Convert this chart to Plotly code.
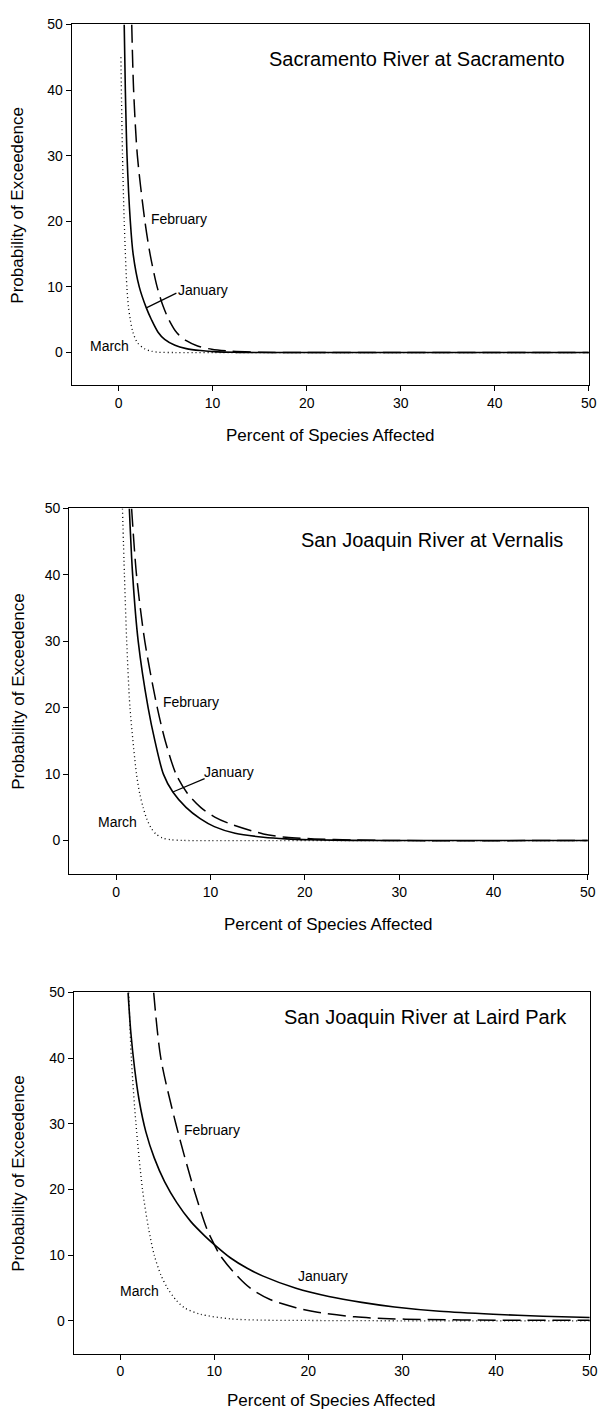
import plotly.graph_objects as go

# ---------------- data ----------------
panel_titles = ["Sacramento River at Sacramento",
                "San Joaquin River at Vernalis",
                "San Joaquin River at Laird Park"]
series_names = ["January", "February", "March"]
x_ticks = [0, 10, 20, 30, 40, 50]
y_ticks = [0, 10, 20, 30, 40, 50]
x_title = "Percent of Species Affected"
y_title = "Probability of Exceedence"

# Panel 1: Sacramento River at Sacramento
sac_jan_x = [0.6, 0.72, 0.9, 1.25, 1.55, 2.2, 2.95, 3.5, 4.2, 4.9, 6.0, 7.2, 8.7, 10.5, 12.5, 16, 30, 50]
sac_jan_y = [50, 40, 30, 20, 15, 10, 6.8, 5.0, 3.1, 2.0, 1.1, 0.6, 0.3, 0.1, 0.03, 0, 0, 0]
sac_feb_x = [1.4, 1.6, 2.0, 2.8, 3.35, 4.1, 4.75, 5.35, 6.2, 7.2, 8.4, 9.9, 12, 15, 20, 30, 50]
sac_feb_y = [50, 40, 30, 20, 15, 10, 7, 5, 3, 1.8, 1.0, 0.5, 0.2, 0.05, 0, 0, 0]
sac_mar_x = [0.25, 0.32, 0.42, 0.6, 0.88, 1.05, 1.25, 1.5, 2.0, 2.8, 3.5, 4.2, 6, 10, 30, 50]
sac_mar_y = [45, 38, 30, 20, 10, 7, 5, 3.2, 1.5, 0.55, 0.2, 0.05, 0, 0, 0, 0]

# Panel 2: San Joaquin River at Vernalis
ver_jan_x = [1.39, 1.74, 2.33, 3.38, 4.1, 5.0, 6.0, 7.4, 8.9, 10.4, 12.6, 15.6, 18, 20.5, 25, 30, 50]
ver_jan_y = [50, 40, 30, 20, 15, 10, 7.3, 5, 3.3, 2.1, 1.1, 0.5, 0.25, 0.12, 0.03, 0, 0]
ver_feb_x = [1.63, 2.15, 3.03, 4.35, 5.2, 6.34, 7.5, 8.95, 10.5, 12.1, 15.6, 18, 21, 25, 30, 50]
ver_feb_y = [50, 40, 30, 20, 15, 10, 7.2, 5, 3.5, 2.5, 1.0, 0.5, 0.25, 0.08, 0, 0]
ver_mar_x = [0.66, 0.87, 1.11, 1.46, 2.15, 2.5, 2.85, 3.25, 3.65, 4.2, 4.9, 5.8, 7, 10, 30, 50]
ver_mar_y = [50, 40, 30, 20, 10, 7, 5, 3.2, 2.0, 1.0, 0.4, 0.12, 0.02, 0, 0, 0]

# Panel 3: San Joaquin River at Laird Park
lp_jan_x = [0.81, 1.1, 1.5, 2.0, 2.7, 3.6, 4.7, 6.0, 7.5, 9.0, 10.0, 11.7, 13.5, 15.2, 18.7, 22.2, 25.7, 29.2, 34, 39.7, 45, 50]
lp_jan_y = [50, 44, 38.5, 33.5, 28.8, 24.8, 21.2, 18.0, 15.1, 12.9, 11.6, 9.6, 8.0, 6.8, 4.95, 3.7, 2.8, 2.1, 1.45, 1.0, 0.7, 0.5]
lp_feb_x = [3.54, 4.3, 5.9, 7.83, 9.2, 10.0, 10.6, 12.0, 13.8, 16, 18.7, 21, 25, 28, 32, 40, 50]
lp_feb_y = [50, 40, 30, 20, 14, 11.6, 10, 7.5, 5, 3.2, 2.0, 1.3, 0.6, 0.35, 0.2, 0.1, 0.1]
lp_mar_x = [0.88, 1.16, 1.65, 2.35, 3.0, 3.6, 4.3, 5.0, 5.9, 6.8, 8.5, 11.7, 15, 20, 30, 50]
lp_mar_y = [50, 40, 30, 20, 14, 10, 7, 5, 3.2, 2, 1, 0.3, 0.1, 0.05, 0, 0]

panels = [
    [(sac_jan_x, sac_jan_y), (sac_feb_x, sac_feb_y), (sac_mar_x, sac_mar_y)],
    [(ver_jan_x, ver_jan_y), (ver_feb_x, ver_feb_y), (ver_mar_x, ver_mar_y)],
    [(lp_jan_x, lp_jan_y), (lp_feb_x, lp_feb_y), (lp_mar_x, lp_mar_y)],
]

# curve label positions (data units): January, February, March
label_pos = [
    [(8.95, 9.5), (6.4, 20.4), (-0.95, 1.06)],
    [(12.0, 10.3), (7.98, 20.8), (0.17, 2.84)],
    [(21.6, 6.8), (9.72, 29.0), (2.0, 4.55)],
]
# leader lines for the January label (panels 1 and 2)
leaders = {0: (2.95, 6.8, 6.15, 9.05), 1: (6.0, 7.3, 9.37, 9.33)}

# ---------------- layout geometry (pixels) ----------------
W, H = 605, 1412
boxes = [  # left, right, top, bottom in px
    (72.5, 596.7, 16.5, 379.5),
    (70.0, 595.7, 503.3, 870.7),
    (74.5, 597.7, 990.0, 1353.3),
]
title_pos = [(575, 51), (573, 535), (576.5, 1015)]
xtitle_y = [430, 922, 1400]

FONT = "Liberation Sans, Arial, Helvetica, sans-serif"
styles = [
    dict(color="black", width=1.6, dash="solid"),
    dict(color="black", width=1.5, dash="18px,7px"),
    dict(color="black", width=1.3, dash="1px,3px"),
]

fig = go.Figure()
annotations = []
shapes = []

for i, (series, box) in enumerate(zip(panels, boxes)):
    n = "" if i == 0 else str(i + 1)
    xa, ya = "x" + n, "y" + n
    for (xs, ys), name, st in zip(series, series_names, styles):
        fig.add_trace(go.Scatter(x=xs, y=ys, mode="lines", name=name,
                                 line=dict(shape="spline", smoothing=0.8, **st),
                                 xaxis=xa, yaxis=ya, showlegend=False,
                                 hoverinfo="skip"))
    l, r, t, b = box
    axis_common = dict(showline=True, linecolor="black", linewidth=1,
                       mirror=True, ticks="outside", ticklen=5, tickwidth=1,
                       tickcolor="black", showgrid=False, zeroline=False,
                       tickfont=dict(family=FONT, size=14, color="black"))
    fig.update_layout(**{
        "xaxis" + n: dict(domain=[l / W, r / W], range=[-5, 50],
                          tickvals=x_ticks, ticktext=[str(v) for v in x_ticks],
                          anchor=ya, **axis_common),
        "yaxis" + n: dict(domain=[1 - b / H, 1 - t / H], range=[-5, 50],
                          tickvals=y_ticks, ticktext=[str(v) for v in y_ticks],
                          anchor=xa, **axis_common),
    })
    # panel title
    tx, ty = title_pos[i]
    annotations.append(dict(text=panel_titles[i], x=tx / W, y=1 - ty / H,
                            xref="paper", yref="paper", xanchor="right",
                            yanchor="middle", showarrow=False,
                            font=dict(family=FONT, size=20, color="black")))
    # axis titles
    annotations.append(dict(text=x_title, x=(l + r) / 2 / W, y=1 - xtitle_y[i] / H,
                            xref="paper", yref="paper", xanchor="center",
                            yanchor="middle", showarrow=False,
                            font=dict(family=FONT, size=17, color="black")))
    annotations.append(dict(text=y_title, x=18 / W, y=1 - (t + b) / 2 / H,
                            xref="paper", yref="paper", xanchor="center",
                            yanchor="middle", textangle=-90, showarrow=False,
                            font=dict(family=FONT, size=17, color="black")))
    # curve labels
    for name, (lx, ly) in zip(series_names, label_pos[i]):
        annotations.append(dict(text=name, x=lx, y=ly, xref=xa, yref=ya,
                                xanchor="center", yanchor="middle",
                                showarrow=False,
                                font=dict(family=FONT, size=14, color="black")))
    if i in leaders:
        x0, y0, x1, y1 = leaders[i]
        shapes.append(dict(type="line", xref=xa, yref=ya, x0=x0, y0=y0,
                           x1=x1, y1=y1, line=dict(color="black", width=1.2)))

fig.update_layout(width=W, height=H, margin=dict(l=0, r=0, t=0, b=0),
                  paper_bgcolor="white", plot_bgcolor="white",
                  annotations=annotations, shapes=shapes)

fig.write_html("out.html")
